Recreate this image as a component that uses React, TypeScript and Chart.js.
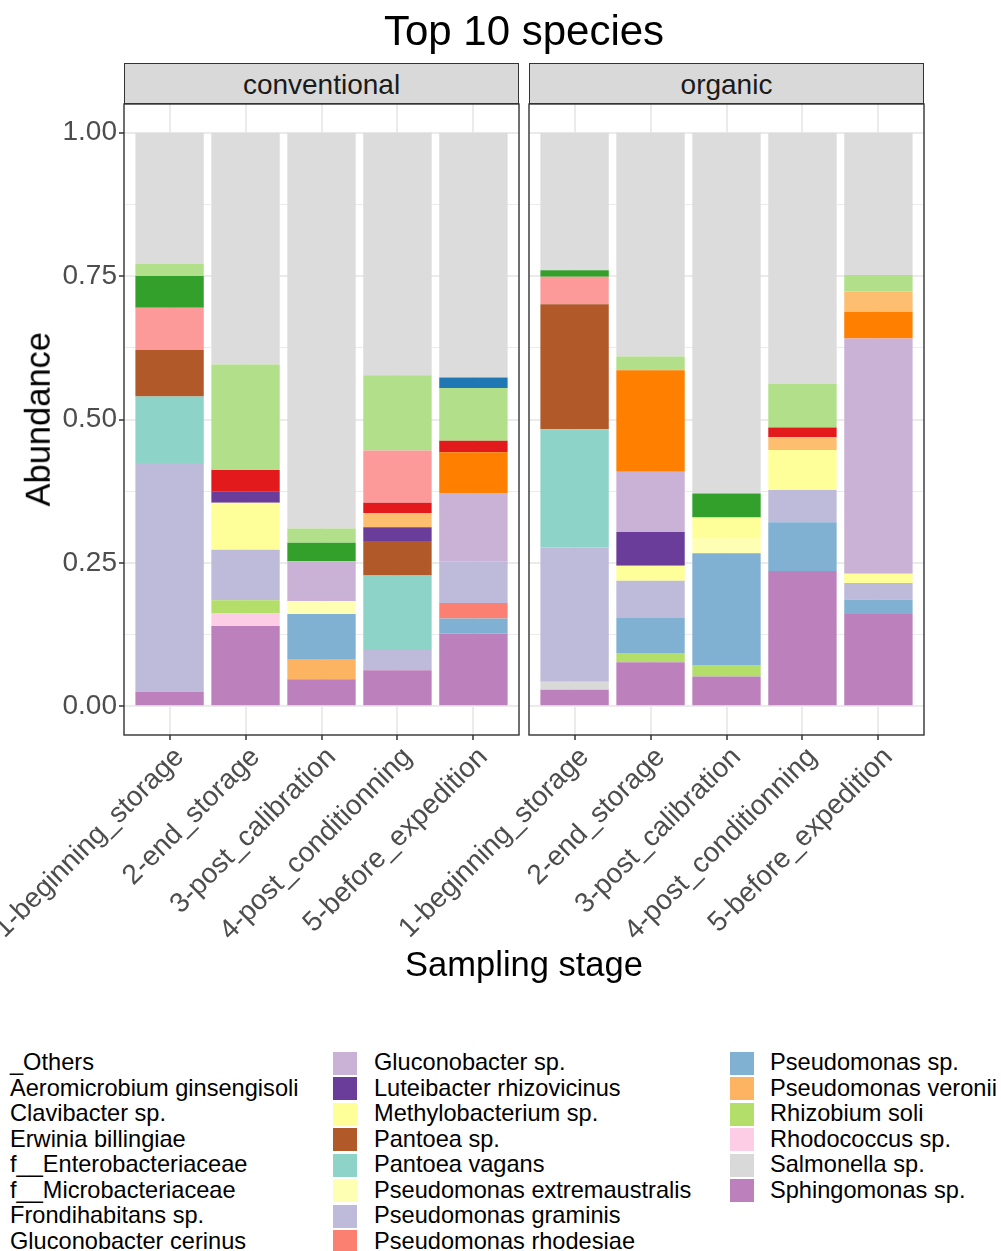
import React, { useEffect, useRef } from "react";
import { Chart, registerables } from "chart.js";

Chart.register(...registerables);

const FONT = '"Liberation Sans", Arial, Helvetica, sans-serif';

// ---------- data ----------
const panels = ["conventional", "organic"];
const stages = [
  "1-beginning_storage",
  "2-end_storage",
  "3-post_calibration",
  "4-post_conditionning",
  "5-before_expedition",
];
const yMajorTicks = [0, 0.25, 0.5, 0.75, 1];
const yMinorTicks = [0.125, 0.375, 0.625, 0.875];

// each array: 5 conventional stages, then 5 organic stages
const others = [0.229, 0.404, 0.69, 0.423, 0.427, 0.24, 0.39, 0.629, 0.438, 0.248];
const aeromicrobiumGinsengisoli = [0, 0, 0, 0, 0.018, 0, 0, 0, 0, 0];
const clavibacterSp = [0.021, 0.184, 0.025, 0.131, 0.092, 0, 0.024, 0, 0.076, 0.029];
const erwiniaBillingiae = [0.055, 0, 0.032, 0, 0, 0.011, 0, 0.042, 0, 0];
const fEnterobacteriaceae = [0.074, 0, 0, 0.091, 0, 0.048, 0, 0, 0, 0];
const fMicrobacteriaceae = [0, 0.038, 0, 0.018, 0.02, 0, 0, 0, 0.017, 0];
const frondihabitansSp = [0, 0, 0, 0.025, 0, 0, 0, 0, 0.022, 0.035];
const gluconobacterCerinus = [0, 0, 0, 0, 0.072, 0, 0.177, 0, 0, 0.047];
const gluconobacterSp = [0, 0, 0.07, 0, 0.119, 0, 0.105, 0, 0, 0.41];
const luteibacterRhizovicinus = [0, 0.019, 0, 0.024, 0, 0, 0.059, 0, 0, 0];
const methylobacteriumSp = [0, 0.082, 0, 0, 0, 0, 0.026, 0.037, 0.07, 0.016];
const pantoeaSp = [0.081, 0, 0, 0.06, 0, 0.218, 0, 0, 0, 0];
const pantoeaVagans = [0.116, 0, 0, 0.13, 0, 0.206, 0, 0, 0, 0];
const pseudomonasExtremaustralis = [0, 0, 0.022, 0, 0, 0, 0, 0.025, 0, 0];
const pseudomonasGraminis = [0.399, 0.088, 0, 0.035, 0.072, 0.234, 0.065, 0, 0.056, 0.029];
const pseudomonasRhodesiae = [0, 0, 0, 0, 0.027, 0, 0, 0, 0, 0];
const pseudomonasSp = [0, 0, 0.08, 0, 0.026, 0, 0.061, 0.195, 0.085, 0.025];
const pseudomonasVeronii = [0, 0, 0.034, 0, 0, 0, 0, 0, 0, 0];
const rhizobiumSoli = [0, 0.023, 0, 0, 0, 0, 0.016, 0.02, 0, 0];
const rhodococcusSp = [0, 0.022, 0, 0, 0, 0, 0, 0, 0, 0];
const salmonellaSp = [0, 0, 0, 0, 0, 0.014, 0, 0, 0, 0];
const sphingomonasSp = [0.025, 0.14, 0.047, 0.063, 0.127, 0.029, 0.077, 0.052, 0.236, 0.161];

// legend / factor order (top of stack first)
const speciesNames = [
  "_Others",
  "Aeromicrobium ginsengisoli",
  "Clavibacter sp.",
  "Erwinia billingiae",
  "f__Enterobacteriaceae",
  "f__Microbacteriaceae",
  "Frondihabitans sp.",
  "Gluconobacter cerinus",
  "Gluconobacter sp.",
  "Luteibacter rhizovicinus",
  "Methylobacterium sp.",
  "Pantoea sp.",
  "Pantoea vagans",
  "Pseudomonas extremaustralis",
  "Pseudomonas graminis",
  "Pseudomonas rhodesiae",
  "Pseudomonas sp.",
  "Pseudomonas veronii",
  "Rhizobium soli",
  "Rhodococcus sp.",
  "Salmonella sp.",
  "Sphingomonas sp.",
];
const speciesValues = [
  others,
  aeromicrobiumGinsengisoli,
  clavibacterSp,
  erwiniaBillingiae,
  fEnterobacteriaceae,
  fMicrobacteriaceae,
  frondihabitansSp,
  gluconobacterCerinus,
  gluconobacterSp,
  luteibacterRhizovicinus,
  methylobacteriumSp,
  pantoeaSp,
  pantoeaVagans,
  pseudomonasExtremaustralis,
  pseudomonasGraminis,
  pseudomonasRhodesiae,
  pseudomonasSp,
  pseudomonasVeronii,
  rhizobiumSoli,
  rhodococcusSp,
  salmonellaSp,
  sphingomonasSp,
];
const speciesColors = [
  "#DCDCDC",
  "#1F78B4",
  "#B2DF8A",
  "#33A02C",
  "#FB9A99",
  "#E31A1C",
  "#FDBF6F",
  "#FF7F00",
  "#CAB2D6",
  "#6A3D9A",
  "#FFFF99",
  "#B15928",
  "#8DD3C7",
  "#FFFFB3",
  "#BEBADA",
  "#FB8072",
  "#80B1D3",
  "#FDB462",
  "#B3DE69",
  "#FCCDE5",
  "#D9D9D9",
  "#BC80BD",
];

// ---------- layout constants ----------
const CANVAS_W = 1001;
const CANVAS_H = 1000;
const PLOT_TOP = 104;
const PLOT_BOTTOM = 735;
const panelX = [
  [124, 519],
  [529, 924],
];

const panelBorder = {
  id: "panelBorder",
  afterDatasetsDraw(chart: any) {
    const { left, top, right, bottom } = chart.chartArea;
    const ctx = chart.ctx;
    ctx.save();
    ctx.strokeStyle = "#333333";
    ctx.lineWidth = 1.4;
    ctx.strokeRect(left, top, right - left, bottom - top);
    ctx.restore();
  },
};

const isMajor = (v: number) => yMajorTicks.some((t) => Math.abs(t - v) < 1e-6);

function makeDatasets(p: number) {
  const order = speciesNames.map((_, i) => i).reverse();
  return order.map((i) => ({
    label: speciesNames[i],
    data: stages.map((_, s) => ({ x: s + 1, y: speciesValues[i][p * stages.length + s] })),
    backgroundColor: speciesColors[i],
    borderWidth: 0,
    barPercentage: 0.9,
    categoryPercentage: 1,
  }));
}

function makeOptions(p: number): any {
  const showY = p === 0;
  const [l, r] = panelX[p];
  return {
    responsive: false,
    animation: false,
    devicePixelRatio: 1,
    layout: {
      padding: {
        left: showY ? 0 : l,
        right: CANVAS_W - r,
        top: PLOT_TOP,
        bottom: 0,
      },
    },
    plugins: {
      legend: { display: false },
      tooltip: { enabled: false },
      title: { display: false },
    },
    scales: {
      x: {
        type: "linear",
        stacked: true,
        offset: false,
        min: 0.4,
        max: 5.6,
        afterBuildTicks: (s: any) => {
          s.ticks = stages.map((_, i) => ({ value: i + 1 }));
        },
        afterFit: (s: any) => {
          s.height = CANVAS_H - PLOT_BOTTOM;
          s.paddingLeft = 0;
          s.paddingRight = 0;
        },
        ticks: {
          autoSkip: false,
          minRotation: 45,
          maxRotation: 45,
          labelOffset: 10,
          padding: 1,
          color: "#4D4D4D",
          font: { family: FONT, size: 28 },
          callback: (v: number) => stages[Math.round(v) - 1] ?? "",
        },
        grid: {
          offset: false,
          color: "#EBEBEB",
          lineWidth: 2,
          drawTicks: true,
          tickLength: 5,
          tickColor: "#333333",
          tickWidth: 1.5,
        },
        border: { display: false },
      },
      y: {
        stacked: true,
        min: -0.05,
        max: 1.05,
        afterBuildTicks: (s: any) => {
          s.ticks = [...yMajorTicks, ...yMinorTicks]
            .sort((a, b) => a - b)
            .map((v) => ({ value: v }));
        },
        afterFit: (s: any) => {
          s.width = showY ? panelX[0][0] : 0;
        },
        ticks: {
          display: showY,
          autoSkip: false,
          padding: 2,
          color: "#4D4D4D",
          font: { family: FONT, size: 28 },
          callback: (v: number) => (isMajor(v) ? v.toFixed(2) : ""),
        },
        grid: {
          color: "#EBEBEB",
          lineWidth: (ctx: any) => (ctx.tick && isMajor(ctx.tick.value) ? 2 : 1),
          drawTicks: showY,
          tickLength: 5,
          tickColor: (ctx: any) =>
            ctx.tick && isMajor(ctx.tick.value) ? "#333333" : "rgba(0,0,0,0)",
          tickWidth: 1.5,
        },
        border: { display: false },
      },
    },
  };
}

function Text({
  x,
  y,
  size,
  color = "#000",
  align = "center",
  rotate = 0,
  children,
}: any) {
  // (x, y) is the centre of the text line box
  const w = 1000;
  let left = x - w / 2;
  let textAlign: any = "center";
  if (align === "left") {
    left = x;
    textAlign = "left";
  }
  return (
    <div
      style={{
        position: "absolute",
        left,
        top: y - size / 2,
        width: w,
        height: size,
        lineHeight: `${size}px`,
        fontSize: size,
        fontFamily: FONT,
        color,
        textAlign,
        whiteSpace: "nowrap",
        transform: rotate ? `rotate(${rotate}deg)` : undefined,
        transformOrigin: align === "left" ? "0 50%" : "50% 50%",
      }}
    >
      {children}
    </div>
  );
}

export default function App() {
  const leftRef = useRef<HTMLCanvasElement>(null);
  const rightRef = useRef<HTMLCanvasElement>(null);

  useEffect(() => {
    const charts = [leftRef, rightRef].map(
      (ref, p) =>
        new Chart(ref.current as HTMLCanvasElement, {
          type: "bar",
          data: { datasets: makeDatasets(p) as any },
          options: makeOptions(p),
          plugins: [panelBorder],
        })
    );
    return () => charts.forEach((c) => c.destroy());
  }, []);

  const legendSwatchX = [-31, 333, 730];
  const legendTextX = [10, 374, 770];
  const legendRows = 8;

  return (
    <div
      style={{
        position: "absolute",
        left: 0,
        top: 0,
        width: CANVAS_W,
        height: 1251,
        overflow: "hidden",
        background: "#ffffff",
        fontFamily: FONT,
      }}
    >
      <canvas
        ref={leftRef}
        width={CANVAS_W}
        height={CANVAS_H}
        style={{ position: "absolute", left: 0, top: 0 }}
      />
      <canvas
        ref={rightRef}
        width={CANVAS_W}
        height={CANVAS_H}
        style={{ position: "absolute", left: 0, top: 0 }}
      />

      <Text x={524} y={31} size={42}>
        Top 10 species
      </Text>

      {panels.map((name, p) => (
        <div
          key={name}
          style={{
            position: "absolute",
            left: panelX[p][0],
            top: 63,
            width: panelX[p][1] - panelX[p][0],
            height: PLOT_TOP - 63,
            boxSizing: "border-box",
            background: "#D9D9D9",
            border: "1.4px solid #333333",
            color: "#1A1A1A",
            fontSize: 28,
            lineHeight: `${PLOT_TOP - 63}px`,
            textAlign: "center",
            fontFamily: FONT,
          }}
        >
          {name}
        </div>
      ))}

      <Text x={38} y={419} size={34.5} rotate={-90}>
        Abundance
      </Text>
      <Text x={524} y={964} size={34.5}>
        Sampling stage
      </Text>

      {speciesNames.map((name, i) => {
        const col = Math.floor(i / legendRows);
        const row = i % legendRows;
        const cy = 1063 + row * 25.5;
        return (
          <React.Fragment key={name}>
            <div
              style={{
                position: "absolute",
                left: legendSwatchX[col],
                top: cy - 11.5,
                width: 24,
                height: 23,
                background: speciesColors[i],
              }}
            />
            <Text x={legendTextX[col]} y={cy} size={23.6} align="left">
              {name}
            </Text>
          </React.Fragment>
        );
      })}
    </div>
  );
}
